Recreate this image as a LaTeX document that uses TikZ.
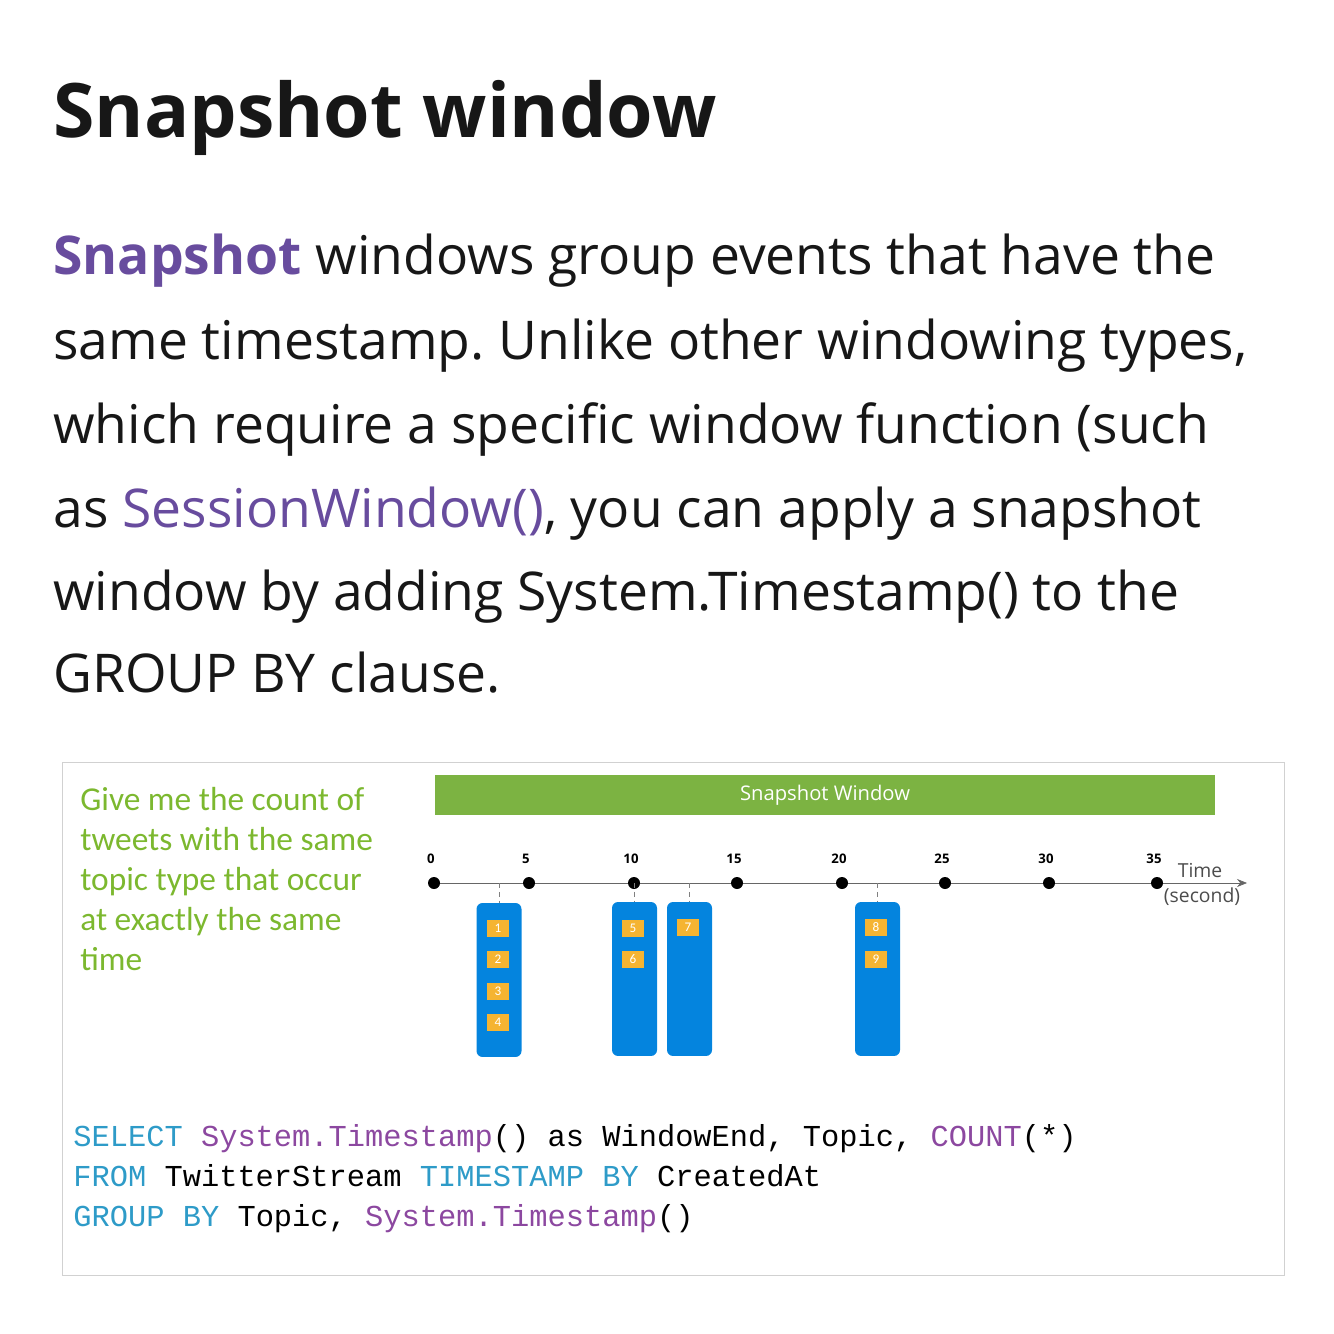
\documentclass[tikz,border=0pt]{standalone}
\usepackage{fontspec}
\setmainfont{Open Sans}
\setmonofont{Liberation Mono}
\newfontfamily\calib{Carlito}
\usetikzlibrary{positioning, arrows.meta}
\frenchspacing

\definecolor{bodytext}{RGB}{23,23,23}
\definecolor{docpurple}{RGB}{104,76,158}
\definecolor{notegreen}{RGB}{124,184,47}
\definecolor{wingreen}{RGB}{124,179,66}
\definecolor{eventblue}{RGB}{4,132,222}
\definecolor{tweetorange}{RGB}{245,180,50}
\definecolor{kwcyan}{RGB}{46,155,200}
\definecolor{fnpurple}{RGB}{140,72,160}

\tikzset{
  bodyline/.style={anchor=base west, inner sep=0pt, text=bodytext, font=\fontsize{30.4}{36}\selectfont},
  noteline/.style={anchor=base west, inner sep=0pt, text=notegreen, font=\calib\fontsize{19}{22}\selectfont},
  codeline/.style={anchor=base west, inner sep=0pt, text=black, font=\ttfamily\fontsize{17.3}{20}\selectfont},
  tickdot/.style={circle, fill=black, inner sep=0pt, minimum size=0.24cm},
  ticklabel/.style={inner sep=0pt, font=\fontsize{7.5}{9}\selectfont\bfseries},
  eventbar/.style={rounded corners=0.12cm, fill=eventblue, minimum width=0.9cm, minimum height=3.08cm, inner sep=0pt},
  tweet/.style={fill=tweetorange, minimum width=0.44cm, minimum height=0.34cm, inner sep=0pt, text=white, font=\calib\fontsize{7.5}{8}\selectfont},
  marker/.style={densely dashed, gray, thin}
}

\begin{document}
\begin{tikzpicture}[x=0.02cm, y=-0.02cm]
    \useasboundingbox (0,0) rectangle (1334,1334);

    \node [anchor=base west, inner sep=0pt, text=bodytext, font=\bfseries\fontsize{42.8}{50}\selectfont] (title) at (53,138) {Snapshot window};

    \node [bodyline] (p1) at (53,275) {{\color{docpurple}\bfseries Snapshot} windows group events that have the};
    \node [bodyline] (p2) at (53,360) {same timestamp. Unlike other windowing types,};
    \node [bodyline] (p3) at (53,443) {which require a specific window function (such};
    \node [bodyline] (p4) at (53,527) {as {\color{docpurple}SessionWindow()}, you can apply a snapshot};
    \node [bodyline] (p5) at (53,610) {window by adding System.Timestamp() to the};
    \node [bodyline] (p6) at (53,692) {GROUP BY clause.};

    \draw [black!18] (62,762) rectangle (1284,1275);

    \node [noteline] (n1) at (80,810) {Give me the count of};
    \node [noteline] (n2) at (80,850) {tweets with the same};
    \node [noteline] (n3) at (80,890) {topic type that occur};
    \node [noteline] (n4) at (80,930) {at exactly the same};
    \node [noteline] (n5) at (80,970) {time};

    \node [fill=wingreen, minimum width=15.6cm, minimum height=0.8cm, inner sep=0pt, text=white, font=\fontsize{11.5}{13}\selectfont] (win) at (825,795) {Snapshot Window};

    \coordinate (axend) at (1247,883);
    \draw [black!60, -{Stealth[length=0.2cm, width=0.16cm]}] (434,883) -- (axend);
    \foreach \t/\x in {0/434, 5/529, 10/634, 15/737, 20/842, 25/945, 30/1049, 35/1157} {
        \node [tickdot] (d\t) at (\x,883) {};
        \node [ticklabel] (l\t) at (\x-3,859) {\t};
    }
    \node [text=black!70, font=\fontsize{11}{13}\selectfont, inner sep=0pt] (tlabel) at (1200,870) {Time};
    \node [text=black!70, font=\fontsize{11}{13}\selectfont, inner sep=0pt] (slabel) at (1202,897) {(second)};

    \node [eventbar] (bar1) at (499,980) {};
    \node [eventbar] (bar2) at (634.5,979) {};
    \node [eventbar] (bar3) at (689.5,979) {};
    \node [eventbar] (bar4) at (877.5,979) {};

    \coordinate (e1) at (499,883);
    \coordinate (e2) at (634.5,883);
    \coordinate (e3) at (689.5,883);
    \coordinate (e4) at (877.5,883);
    \foreach \i in {1,...,4} {
        \draw [marker] (e\i) -- (bar\i.north);
    }

    \node [tweet] (t1) at (498,928) {1};
    \node [tweet] (t2) at (498,959) {2};
    \node [tweet] (t3) at (498,991) {3};
    \node [tweet] (t4) at (498,1022) {4};
    \node [tweet] (t5) at (633,928) {5};
    \node [tweet] (t6) at (633,959) {6};
    \node [tweet] (t7) at (688,927) {7};
    \node [tweet] (t8) at (876,927) {8};
    \node [tweet] (t9) at (876,959) {9};

    \node [codeline] (c1) at (73,1146) {{\color{kwcyan}SELECT} {\color{fnpurple}System.Timestamp}() as WindowEnd, Topic, {\color{fnpurple}COUNT}(*)};
    \node [codeline] (c2) at (73,1186) {{\color{kwcyan}FROM} TwitterStream {\color{kwcyan}TIMESTAMP BY} CreatedAt};
    \node [codeline] (c3) at (73,1226) {{\color{kwcyan}GROUP BY} Topic, {\color{fnpurple}System.Timestamp}()};
\end{tikzpicture}
\end{document}
